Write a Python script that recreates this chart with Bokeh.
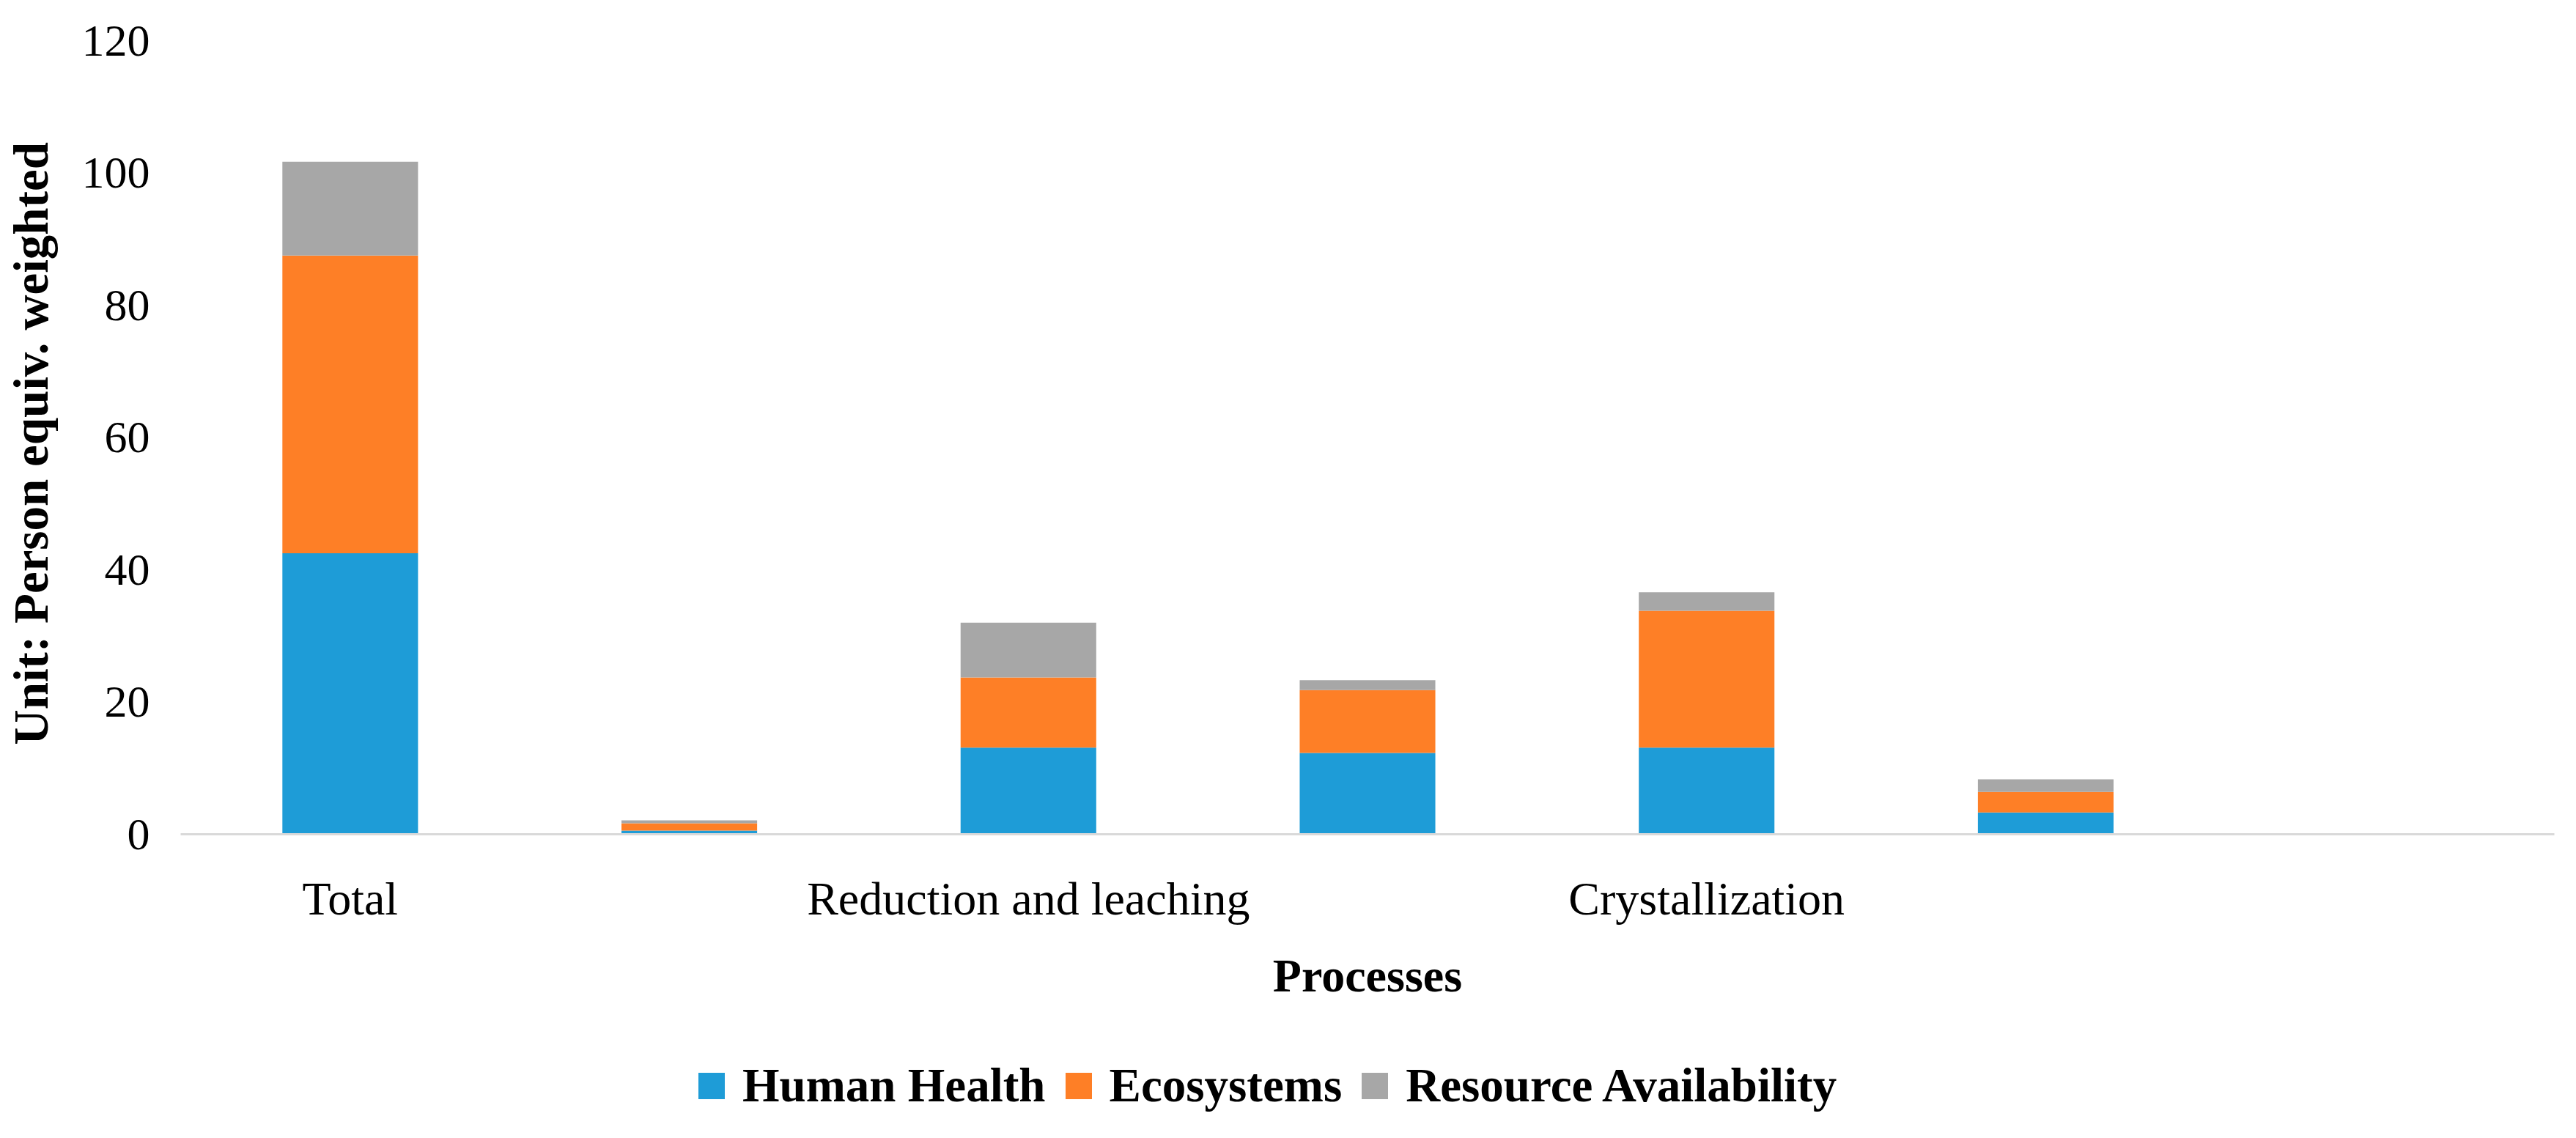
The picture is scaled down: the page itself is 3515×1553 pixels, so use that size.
from bokeh.plotting import figure
from bokeh.layouts import column
from bokeh.models import (ColumnDataSource, Legend, LegendItem, Range1d, FactorRange,
                          FixedTicker, CustomJSTickFormatter)
from bokeh.embed import file_html
from bokeh.resources import INLINE

# ---- data ----
categories = ["Total", "Process 2", "Reduction and leaching", "Process 4",
              "Crystallization", "Process 6", "Process 7"]
shown_labels = ["Total", "Reduction and leaching", "Crystallization"]
human_health = [42.5, 0.55, 13.1, 12.3, 13.1, 3.3, 0.0]
ecosystems = [45.0, 1.1, 10.6, 9.5, 20.7, 3.1, 0.0]
resource_availability = [14.2, 0.45, 8.3, 1.5, 2.8, 1.9, 0.0]
series = ["Human Health", "Ecosystems", "Resource Availability"]
colors = ["#1E9CD7", "#FE7F26", "#A7A7A7"]
y_ticks = [0, 20, 40, 60, 80, 100, 120]

FONT = "Liberation Serif"

source = ColumnDataSource(data={
    "cat": categories,
    "Human Health": human_health,
    "Ecosystems": ecosystems,
    "Resource Availability": resource_availability,
})

W = 3499
H_MAIN = 1420
H_LEG = 117

p = figure(width=W, height=H_MAIN, output_backend="svg", toolbar_location=None,
           x_range=FactorRange(factors=categories, range_padding=0),
           y_range=Range1d(0, 120),
           min_border_left=246, min_border_right=14,
           min_border_top=55, min_border_bottom=H_MAIN - 1138)

renderers = p.vbar_stack(series, x="cat", width=0.4, color=colors,
                         line_color=None, source=source)

p.outline_line_color = None
p.xgrid.grid_line_color = None
p.ygrid.grid_line_color = None
p.background_fill_color = "white"
p.border_fill_color = "white"

# y axis
p.yaxis.ticker = FixedTicker(ticks=y_ticks)
p.yaxis.axis_line_color = None
p.yaxis.major_tick_line_color = None
p.yaxis.minor_tick_line_color = None
p.yaxis.major_tick_out = 0
p.yaxis.major_tick_in = 0
p.yaxis.minor_tick_out = 0
p.yaxis.major_label_text_font = FONT
p.yaxis.major_label_text_font_size = "62px"
p.yaxis.major_label_text_color = "black"
p.yaxis.major_label_standoff = 42
p.yaxis.axis_label = "Unit:  Person equiv. weighted"
p.yaxis.axis_label_text_font = FONT
p.yaxis.axis_label_text_font_size = "67px"
p.yaxis.axis_label_text_font_style = "bold"
p.yaxis.axis_label_text_color = "black"
p.yaxis.axis_label_standoff = 30

# x axis
p.xaxis.axis_line_color = "#D9D9D9"
p.xaxis.axis_line_width = 3
p.xaxis.major_tick_line_color = None
p.xaxis.minor_tick_line_color = None
p.xaxis.major_label_text_font = FONT
p.xaxis.major_label_text_font_size = "64px"
p.xaxis.major_label_text_color = "black"
p.xaxis.major_label_standoff = 46
p.xaxis.formatter = CustomJSTickFormatter(args=dict(shown=shown_labels),
                                          code="return shown.includes(tick) ? tick : '';")
p.xaxis.axis_label = "Processes"
p.xaxis.axis_label_text_font = FONT
p.xaxis.axis_label_text_font_size = "64px"
p.xaxis.axis_label_text_font_style = "bold"
p.xaxis.axis_label_text_color = "black"
p.xaxis.axis_label_standoff = 31

# ---- legend strip below the chart ----
pl = figure(width=W, height=H_LEG, output_backend="svg", toolbar_location=None,
            x_axis_type=None, y_axis_type=None,
            x_range=Range1d(0, 1), y_range=Range1d(0, 1),
            min_border_left=0, min_border_right=0, min_border_top=0, min_border_bottom=0)
pl.outline_line_color = None
pl.background_fill_color = "white"
pl.border_fill_color = "white"
# legend keys: zero-height proxies that only carry the series colours
key_renderers = [pl.vbar(x=[0.5], top=[0], bottom=[0], width=0.0, color=c, line_color=None)
                 for c in colors]

legend = Legend(items=[LegendItem(label=s, renderers=[r]) for s, r in zip(series, key_renderers)],
                orientation="horizontal", location=(702, 18),
                glyph_width=45, glyph_height=45, label_standoff=20, spacing=22,
                padding=0, margin=0, border_line_color=None, background_fill_alpha=0,
                label_text_font=FONT, label_text_font_size="65px",
                label_text_font_style="bold", label_text_color="black")
pl.add_layout(legend, "center")

layout = column(p, pl, spacing=0)
open("out.html", "w").write(file_html(layout, INLINE))
